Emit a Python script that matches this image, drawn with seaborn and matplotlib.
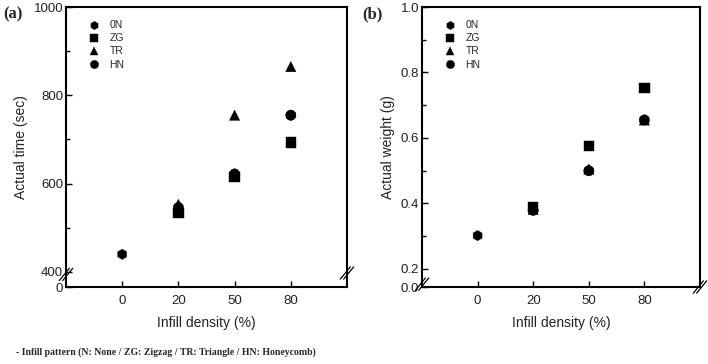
import numpy as np
import pandas as pd
import matplotlib
matplotlib.use("Agg")
import matplotlib.pyplot as plt
import seaborn as sns

# ---- data ----
densities = ["0", "20", "50", "80"]
patterns = ["0N", "ZG", "TR", "HN"]
# actual time (sec) per pattern, NaN where not shown
time_0N = [440, 545, 620, 755]
time_ZG = [np.nan, 533, 615, 693]
time_TR = [np.nan, 553, 755, 865]
time_HN = [np.nan, 546, 622, 755]
# actual weight (g)
weight_0N = [0.302, 0.380, 0.500, 0.655]
weight_ZG = [np.nan, 0.390, 0.575, 0.753]
weight_TR = [np.nan, 0.382, 0.505, 0.655]
weight_HN = [np.nan, 0.379, 0.500, 0.655]

time_ticks = [400, 600, 800, 1000]
weight_ticks = [0.2, 0.4, 0.6, 0.8, 1.0]

rows = []
for p, tv, wv in zip(patterns, [time_0N, time_ZG, time_TR, time_HN],
                     [weight_0N, weight_ZG, weight_TR, weight_HN]):
    for i, d in enumerate(densities):
        rows.append({"pattern": p, "pos": i, "time": tv[i], "weight": wv[i]})
df = pd.DataFrame(rows)

sns.set_style("ticks")
plt.rcParams['font.family'] = ['Liberation Sans', 'DejaVu Sans']

markers = {"0N": "h", "ZG": "s", "TR": "^", "HN": "o"}
palette = {p: "black" for p in patterns}

fig = plt.figure(figsize=(7.08, 3.64), dpi=100)
W, H = 708, 364
axA = fig.add_axes([66 / W, 1 - 287 / H, (347 - 66) / W, 280 / H])
axB = fig.add_axes([422 / W, 1 - 287 / H, (700 - 422) / W, 280 / H])


def style_axis(ax, ylim, major, minor, bottom_label, ylabel, break_left, break_right):
    ax.set_xlim(-1, 4)
    ax.set_ylim(*ylim)
    ax.set_xticks(range(len(densities)))
    ax.set_xticklabels(densities)
    labels = [("%g" % t) if isinstance(t, int) else ("%.1f" % t) for t in major]
    ax.set_yticks([ylim[0]] + list(major))
    ax.set_yticklabels([bottom_label] + labels)
    ax.set_yticks(minor, minor=True)
    ax.tick_params(axis="both", which="both", direction="in", labelsize=9.5,
                   width=1.0, colors="black", labelcolor="#222222")
    ax.tick_params(axis="y", which="major", length=4, pad=2)
    ax.tick_params(axis="y", which="minor", length=3)
    ax.tick_params(axis="x", which="major", length=4, pad=6)
    for s in ax.spines.values():
        s.set_visible(True)
        s.set_linewidth(1.5)
        s.set_color("black")
    ax.set_xlabel("Infill density (%)", fontsize=10, labelpad=6, color="#222222")
    ax.set_ylabel(ylabel, fontsize=10, labelpad=4, color="#222222")
    # break marks
    for xb, yb in [(0, break_left), (1, break_right)]:
        for off in (-0.006, 0.006):
            ax.plot([xb - 0.018 + off, xb + 0.018 + off], [yb - 0.022, yb + 0.022],
                    transform=ax.transAxes, color="black", lw=0.9, clip_on=False)


for ax, col in [(axA, "time"), (axB, "weight")]:
    sns.scatterplot(data=df, x="pos", y=col, hue="pattern", style="pattern",
                    markers=markers, palette=palette, hue_order=patterns,
                    style_order=patterns, s=55, edgecolor="black", linewidth=0.3,
                    ax=ax, legend=True, zorder=3)
    handles, labels = ax.get_legend_handles_labels()
    ax.legend(handles, labels, loc="upper left", bbox_to_anchor=(0.04, 0.975),
              frameon=False, fontsize=7.5, handletextpad=0.5, labelspacing=0.3,
              markerscale=0.8, borderaxespad=0.2)

style_axis(axA, (366, 1000), time_ticks, [500, 700, 900], "0",
           "Actual time (sec)", 0.045, 0.05)
style_axis(axB, (0.145, 1.0), weight_ticks, [0.3, 0.5, 0.7, 0.9], "0.0",
           "Actual weight (g)", 0.01, 0.0)

fig.text(3 / W, 1 - 14 / H, "(a)", fontsize=12, fontweight="bold",
         family="Liberation Serif", va="center", ha="left")
fig.text(362 / W, 1 - 14 / H, "(b)", fontsize=12, fontweight="bold",
         family="Liberation Serif", va="center", ha="left")
fig.text(16 / W, 1 - 352 / H,
         "- Infill pattern (N: None / ZG: Zigzag / TR: Triangle / HN: Honeycomb)",
         fontsize=7, fontweight="bold", family="Liberation Serif",
         va="center", ha="left")

fig.savefig("out.png", dpi=100)
